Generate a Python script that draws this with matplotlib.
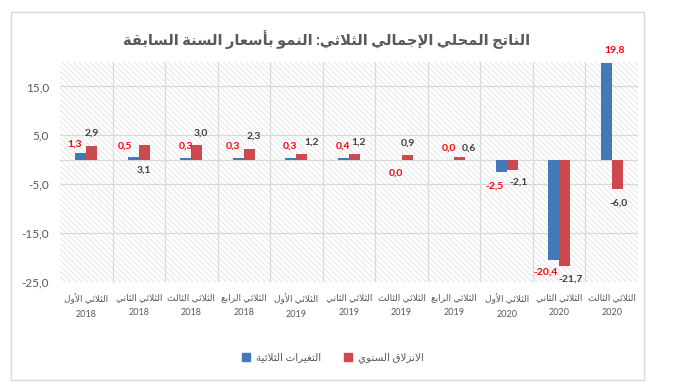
import numpy as np
import matplotlib
matplotlib.use('Agg')
import matplotlib.pyplot as plt
from matplotlib.patches import Rectangle, Patch
from matplotlib.ticker import FuncFormatter

# data
quarters = ['الثلاثي الأول', 'الثلاثي الثاني', 'الثلاثي الثالث', 'الثلاثي الرابع',
            'الثلاثي الأول', 'الثلاثي الثاني', 'الثلاثي الثالث', 'الثلاثي الرابع',
            'الثلاثي الأول', 'الثلاثي الثاني', 'الثلاثي الثالث']
years = ['2018', '2018', '2018', '2018', '2019', '2019', '2019', '2019', '2020', '2020', '2020']
quarterly = [1.3, 0.5, 0.3, 0.3, 0.3, 0.4, 0.0, 0.0, -2.5, -20.4, 19.8]
yearly = [2.9, 3.1, 3.0, 2.3, 1.2, 1.2, 0.9, 0.6, -2.1, -21.7, -6.0]
name_quarterly = 'التغيرات الثلاثية'
name_yearly = 'الانزلاق السنوي'
title = 'الناتج المحلي الإجمالي الثلاثي: النمو بأسعار السنة السابقة'

# label offsets (pixels) from the bar end
q_dx = [-6, -8, 0, -5, -1, 0, 0, 0, -7, -8, 8]
q_dy = [9, 11, 12, 12, 12, 12, -13, 12, -14, -13, 13]
y_dx = [0, 0, 4, 4, 10, 4, 1, 9, 6, 6, 1]
y_dy = [12, -26, 12, 12, 12, 12, 12, 9, -12, -13, -14]

# presentation forms: (isolated code, number of forms)
TABLE = {
    'ا': (0xFE8D, 2), 'أ': (0xFE83, 2), 'إ': (0xFE87, 2), 'آ': (0xFE81, 2),
    'ب': (0xFE8F, 4), 'ة': (0xFE93, 2), 'ت': (0xFE95, 4), 'ث': (0xFE99, 4),
    'ج': (0xFE9D, 4), 'ح': (0xFEA1, 4), 'خ': (0xFEA5, 4), 'د': (0xFEA9, 2),
    'ذ': (0xFEAB, 2), 'ر': (0xFEAD, 2), 'ز': (0xFEAF, 2), 'س': (0xFEB1, 4),
    'ش': (0xFEB5, 4), 'ع': (0xFEC9, 4), 'غ': (0xFECD, 4), 'ف': (0xFED1, 4),
    'ق': (0xFED5, 4), 'ك': (0xFED9, 4), 'ل': (0xFEDD, 4), 'م': (0xFEE1, 4),
    'ن': (0xFEE5, 4), 'ه': (0xFEE9, 4), 'و': (0xFEED, 2), 'ى': (0xFEEF, 2),
    'ي': (0xFEF1, 4), 'ئ': (0xFE89, 4), 'ؤ': (0xFE85, 2),
}
LAM_ALEF = {'آ': 0xFEF5, 'أ': 0xFEF7, 'إ': 0xFEF9, 'ا': 0xFEFB}


def ar(s):
    # crude arabic shaping + right-to-left order
    res = []
    i = 0
    n = len(s)
    while i < n:
        c = s[i]
        if c not in TABLE:
            res.append(c)
            i += 1
            continue
        prev = s[i - 1] if i > 0 else ''
        p = prev in TABLE and TABLE[prev][1] == 4
        if c == 'ل' and i + 1 < n and s[i + 1] in LAM_ALEF:
            res.append(chr(LAM_ALEF[s[i + 1]] + (1 if p else 0)))
            i += 2
            continue
        nxt = s[i + 1] if i + 1 < n else ''
        q = TABLE[c][1] == 4 and nxt in TABLE
        base = TABLE[c][0]
        if p and q:
            f = 3
        elif q:
            f = 2
        elif p:
            f = 1
        else:
            f = 0
        res.append(chr(base + f))
        i += 1
    return ''.join(reversed(res))


BLUE = '#4479B8'
RED = '#CC4A4F'
GRID = '#d9d9d9'
TXT = '#595959'
FAM = ['Lato', 'DejaVu Sans']
plt.rcParams['font.family'] = FAM

fig = plt.figure(figsize=(6.76, 3.92), dpi=100)
fig.patches.append(Rectangle((11 / 676, 1 - 380 / 392), 633 / 676, 368 / 392,
                             transform=fig.transFigure, fill=False,
                             edgecolor=GRID, lw=1))
ax = fig.add_axes([60 / 676, 1 - 282 / 392, 578 / 676, 220 / 392])

# hatched background
plt.rcParams['hatch.linewidth'] = 0.5
ax.add_patch(Rectangle((0, 0), 1, 1, transform=ax.transAxes, facecolor='white',
                       edgecolor='#dedede', hatch='\\\\\\\\\\\\', lw=0, zorder=0))

x = np.arange(len(quarterly)) + 0.5
w = 0.21
ax.bar(x - w / 2, quarterly, w, color=BLUE, zorder=3)
ax.bar(x + w / 2, yearly, w, color=RED, zorder=3)

ax.set_xlim(0, len(quarterly))
ax.set_ylim(-25, 20)
ax.set_yticks([-25, -15, -5, 5, 15])
ax.yaxis.set_major_formatter(FuncFormatter(lambda v, pos: ('%.1f' % v).replace('.', ',')))
for yv in [-25, -15, -5, 0, 5, 15]:
    ax.axhline(yv, color=GRID, lw=0.9, zorder=1)
for xv in range(1, len(quarterly) + 1):
    ax.axvline(xv, color=GRID, lw=0.9, zorder=1)
for s in ax.spines.values():
    s.set_visible(False)
ax.set_xticks(x)
ax.set_xticklabels([ar(qn) + '\n' + yr for qn, yr in zip(quarters, years)],
                   fontsize=6.5, color=TXT, linespacing=1.9)
ax.tick_params(axis='x', length=0, pad=8)
ax.tick_params(axis='y', length=0, pad=8, labelsize=8.5, labelcolor=TXT)

for i in range(len(quarterly)):
    ax.annotate(('%.1f' % quarterly[i]).replace('.', ','), (x[i] - w / 2, quarterly[i]),
                xytext=(q_dx[i], q_dy[i]), textcoords='offset pixels',
                ha='center', va='center', fontsize=7.5, fontweight='bold',
                color='#FF0000', annotation_clip=False, zorder=5)
    ax.annotate(('%.1f' % yearly[i]).replace('.', ','), (x[i] + w / 2, yearly[i]),
                xytext=(y_dx[i], y_dy[i]), textcoords='offset pixels',
                ha='center', va='center', fontsize=7.5, fontweight='bold',
                color='#404040', annotation_clip=False, zorder=5)

fig.text(327 / 676, 1 - 40 / 392, ar(title), ha='center', va='center',
         fontsize=10.5, fontweight='bold', color=TXT)

handles = [Patch(color=BLUE), Patch(color=RED)]
fig.legend(handles, [ar(name_quarterly), ar(name_yearly)], loc='center',
           bbox_to_anchor=(333 / 676, 1 - 358 / 392), ncol=2, frameon=False,
           handlelength=0.75, handleheight=0.75, handletextpad=0.6,
           columnspacing=2.2, prop={'size': 7.5}, labelcolor=TXT)

fig.savefig('out.png', dpi=100)
